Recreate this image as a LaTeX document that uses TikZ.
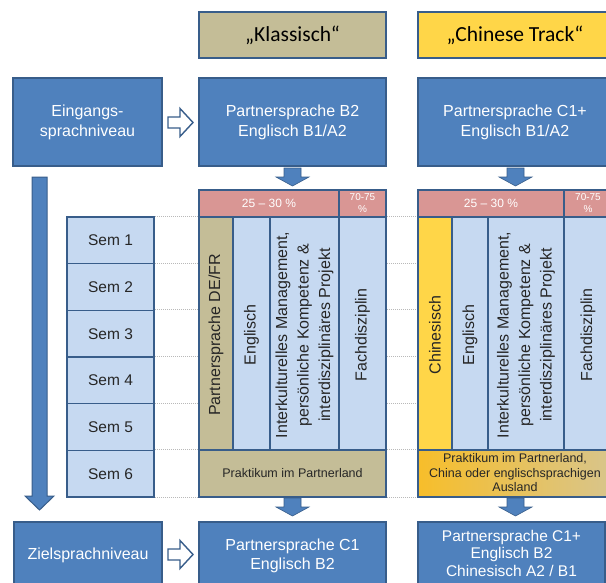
\documentclass[tikz,border=0pt]{standalone}
\usepackage{fontspec}
\setmainfont{Liberation Sans}
\newfontfamily\calibfont{Carlito}
\usetikzlibrary{calc}
\definecolor{boxblue}{HTML}{4F81BD}
\definecolor{edgeblue}{HTML}{385D8A}
\definecolor{semblue}{HTML}{C6D9F1}
\definecolor{khaki}{HTML}{C4BD97}
\definecolor{trackyellow}{HTML}{FFD648}
\definecolor{headpink}{HTML}{D99694}
\definecolor{praktorange}{HTML}{F7BE2A}
\definecolor{praktsand}{HTML}{D8C58C}
\definecolor{inktext}{HTML}{262626}
\tikzset{
	box/.style={draw=edgeblue, line width=1.6pt},
	bluebox/.style={box, fill=boxblue, text=white, align=center, font=\fontsize{16}{20}\selectfont},
	trackbox/.style={box, text=black, font=\calibfont\fontsize{21.5}{24}\selectfont},
	sembox/.style={box, fill=semblue, text=inktext, font=\fontsize{15.5}{18}\selectfont},
	colbox/.style={box, fill=semblue},
	coltext/.style={rotate=90, text=inktext, align=center, font=\fontsize{16}{21.5}\selectfont},
	headbox/.style={box, fill=headpink},
	headtext/.style={text=white, align=center},
	prakttext/.style={text=inktext, align=center, font=\fontsize{12.5}{14.5}\selectfont},
	blockarrow/.style={fill=boxblue, draw=edgeblue, line width=0.6pt},
	hollowarrow/.style={fill=white, draw=edgeblue, line width=1.4pt, line join=miter},
	guide/.style={draw=gray!55, line width=0.7pt, dash pattern=on 1.2pt off 0.8pt}
}
\def\downblock(#1,#2){\draw[blockarrow] (#1-8.5,#2) -- (#1+8.5,#2) -- (#1+8.5,#2+9) -- (#1+16.5,#2+9) -- (#1,#2+18) -- (#1-16.5,#2+9) -- (#1-8.5,#2+9) -- cycle;}
\def\rightblock(#1,#2){\draw[hollowarrow] (#1,#2-5.5) -- (#1+12,#2-5.5) -- (#1+12,#2-14) -- (#1+25,#2) -- (#1+12,#2+14) -- (#1+12,#2+5.5) -- (#1,#2+5.5) -- cycle;}

\begin{document}
\begin{tikzpicture}[x=1pt, y=-1pt]
			%%%%% START %%%%%
			\useasboundingbox (0,0) rectangle (606,582);
			\clip (0,0) rectangle (606,582);
			
			% track headers
			\node[trackbox, fill=khaki, minimum width=187, minimum height=46] (klassisch) at (292.5,35) {„Klassisch“};
			\node[trackbox, fill=trackyellow, minimum width=194, minimum height=46] (chinese) at (515,35) {„Chinese Track“};
			
			% entry level
			\node[bluebox, minimum width=149, minimum height=88] (eingang) at (87.5,122) {Eingangs-\\sprachniveau};
			\node[bluebox, minimum width=187, minimum height=88] (startK) at (292.5,122) {Partnersprache B2\\Englisch B1/A2};
			\node[bluebox, minimum width=194, minimum height=88] (startC) at (515,122) {Partnersprache C1+\\Englisch B1/A2};
			\rightblock(168,122.5)
			\downblock(292.5,168)
			\downblock(515.5,168)
			
			% time arrow
			\draw[blockarrow, line width=1pt] (32,177) -- (47,177) -- (47,496) -- (54,496) -- (39.5,510) -- (25,496) -- (32,496) -- cycle;
			
			% semesters
			\foreach \i in {1,...,6}
				\node[sembox, minimum width=87, minimum height=46.67] (sem\i) at (110.5,{217+46.67*(\i-0.5)}) {Sem \i};
			\foreach \i in {1,...,6}
				\draw[guide] (sem\i.north east) -- +(460,0);
			\draw[guide] (sem6.south east) -- +(460,0);
			
			% Klassisch
			\draw[headbox] (199,190) rectangle (339,217);
			\draw[headbox] (339,190) rectangle (386,217);
			\node[headtext, font=\fontsize{12}{14}\selectfont] (shareK) at (269,203.5) {25 -- 30 \%};
			\node[headtext, font=\fontsize{10}{12}\selectfont] (fachshareK) at (362.5,203.5) {70-75\\\%};
			\draw[colbox, fill=khaki] (199,217) rectangle (233,450);
			\draw[colbox] (233,217) rectangle (270,450);
			\draw[colbox] (270,217) rectangle (339,450);
			\draw[colbox] (339,217) rectangle (386,450);
			\node[coltext] (spracheK) at (216,335) {Partnersprache DE/FR};
			\node[coltext] (englK) at (251.5,335) {Englisch};
			\node[coltext] (interK) at (304.5,335) {Interkulturelles Management,\\persönliche Kompetenz \&\\interdisziplinäres Projekt};
			\node[coltext] (fachK) at (362.5,335) {Fachdisziplin};
			\draw[box, fill=khaki] (199,450) rectangle (386,497);
			\node[prakttext] (praktK) at (292.5,473.5) {Praktikum im Partnerland};
			
			% Chinese Track
			\draw[headbox] (418,190) rectangle (564,217);
			\draw[headbox] (564,190) rectangle (612,217);
			\node[headtext, font=\fontsize{12}{14}\selectfont] (shareC) at (491,203.5) {25 -- 30 \%};
			\node[headtext, font=\fontsize{10}{12}\selectfont] (fachshareC) at (588,203.5) {70-75\\\%};
			\draw[colbox, fill=trackyellow] (418,217) rectangle (452,450);
			\draw[colbox] (452,217) rectangle (488,450);
			\draw[colbox] (488,217) rectangle (564,450);
			\draw[colbox] (564,217) rectangle (612,450);
			\node[coltext] (spracheC) at (435,335) {Chinesisch};
			\node[coltext] (englC) at (470,335) {Englisch};
			\node[coltext] (interC) at (526,335) {Interkulturelles Management,\\persönliche Kompetenz \&\\interdisziplinäres Projekt};
			\node[coltext] (fachC) at (588,335) {Fachdisziplin};
			\draw[box, left color=praktorange, right color=praktsand] (418,450) rectangle (612,497);
			\node[prakttext] (praktC) at (515,473) {Praktikum im Partnerland,\\China oder englischsprachigen\\Ausland};
			
			% target level
			\downblock(292.5,498)
			\downblock(515.5,498)
			\node[bluebox, minimum width=148, minimum height=80] (ziel) at (88,562) {};
			\node[text=white, font=\fontsize{16}{20}\selectfont] (zieltext) at (88,555) {Zielsprachniveau};
			\node[bluebox, minimum width=187, minimum height=80] (endK) at (292.5,562) {};
			\node[text=white, align=center, font=\fontsize{16}{19}\selectfont] (endKtext) at (292.5,555.5) {Partnersprache C1\\Englisch B2};
			\node[bluebox, minimum width=187, minimum height=80] (endC) at (511.5,562) {};
			\node[text=white, align=center, font=\fontsize{15.5}{17.5}\selectfont] (endCtext) at (511.5,553) {Partnersprache C1+\\Englisch B2\\Chinesisch A2 / B1};
			\rightblock(168,554.5)
			
			%%%%% END %%%%%
		\end{tikzpicture}
\end{document}
